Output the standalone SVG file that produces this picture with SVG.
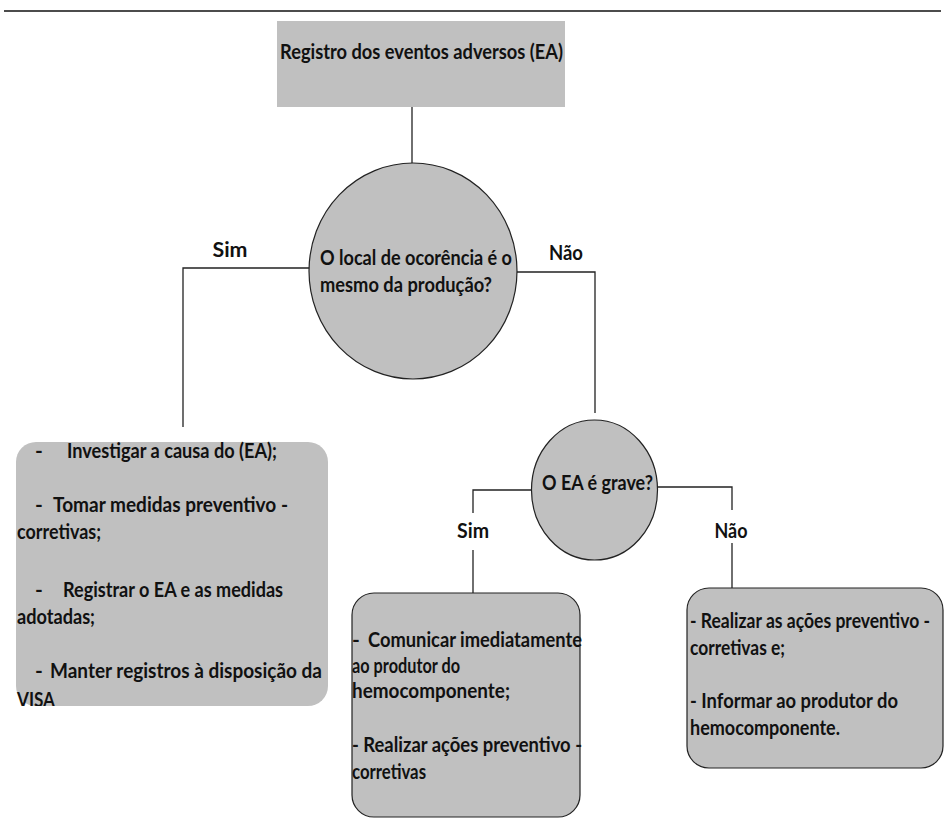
<svg xmlns="http://www.w3.org/2000/svg" width="945" height="819" viewBox="0 0 945 819">
<style>
  .t{font-family:Lato,"Liberation Sans",sans-serif;font-weight:bold;font-size:21px;fill:#111}
  .fill{fill:#c0c0c0}
  .node{fill:#c0c0c0;stroke:#222;stroke-width:1.2}
  .conn{fill:none;stroke:#222;stroke-width:1.3}
</style>
<defs>
  <clipPath id="clipL"><rect x="0" y="430" width="345" height="276"/></clipPath>
</defs>
<rect x="0" y="0" width="945" height="819" fill="#fff"/>
<line x1="4" y1="11" x2="941" y2="11" stroke="#111" stroke-width="1.5"/>

<g id="connectors">
  <line class="conn" x1="412" y1="107" x2="412" y2="163"/>
  <polyline class="conn" points="310,268 183,268 183,427"/>
  <polyline class="conn" points="517,272 595,272 595,413"/>
  <polyline class="conn" points="532,490 473,490 473,513"/>
  <line class="conn" x1="473" y1="550" x2="473" y2="593"/>
  <polyline class="conn" points="657,487 732,487 732,510"/>
  <line class="conn" x1="732" y1="543" x2="732" y2="588"/>
  <text class="t" x="230" y="257" text-anchor="middle" textLength="35" lengthAdjust="spacingAndGlyphs">Sim</text>
  <text class="t" x="566" y="260" text-anchor="middle" textLength="34" lengthAdjust="spacingAndGlyphs">Não</text>
  <text class="t" x="473" y="538" text-anchor="middle" textLength="32" lengthAdjust="spacingAndGlyphs">Sim</text>
  <text class="t" x="731" y="538" text-anchor="middle" textLength="33" lengthAdjust="spacingAndGlyphs">Não</text>
</g>

<g id="n-registro">
  <rect class="fill" x="277" y="21" width="288" height="86"/>
  <text class="t" x="280" y="59" textLength="283" lengthAdjust="spacingAndGlyphs">Registro dos eventos adversos (EA)</text>
</g>

<g id="n-local">
  <ellipse class="node" cx="413" cy="271" rx="104" ry="108"/>
  <text class="t" x="320" y="265" textLength="192" lengthAdjust="spacingAndGlyphs">O local de ocorência é o</text>
  <text class="t" x="320" y="292" textLength="172" lengthAdjust="spacingAndGlyphs">mesmo da produção?</text>
</g>

<g id="n-grave">
  <ellipse class="node" cx="594.5" cy="490" rx="63" ry="70"/>
  <text class="t" x="542" y="490" textLength="111" lengthAdjust="spacingAndGlyphs">O EA é grave?</text>
</g>

<g id="n-mesmo">
  <rect class="fill" x="16" y="442" width="312" height="264" rx="20"/>
  <g clip-path="url(#clipL)">
    <text class="t" x="35" y="458">-</text>
    <text class="t" x="67" y="458" textLength="210" lengthAdjust="spacingAndGlyphs">Investigar a causa do (EA);</text>
    <text class="t" x="35" y="512">-</text>
    <text class="t" x="53" y="512" textLength="235" lengthAdjust="spacingAndGlyphs">Tomar medidas preventivo -</text>
    <text class="t" x="17" y="539" textLength="84" lengthAdjust="spacingAndGlyphs">corretivas;</text>
    <text class="t" x="35" y="597">-</text>
    <text class="t" x="63" y="597" textLength="220" lengthAdjust="spacingAndGlyphs">Registrar o EA e as medidas</text>
    <text class="t" x="17" y="624" textLength="78" lengthAdjust="spacingAndGlyphs">adotadas;</text>
    <text class="t" x="35" y="678">-</text>
    <text class="t" x="50" y="678" textLength="272" lengthAdjust="spacingAndGlyphs">Manter registros à disposição da</text>
    <text class="t" x="17" y="707" textLength="38" lengthAdjust="spacingAndGlyphs">VISA</text>
  </g>
</g>

<g id="n-grave-sim">
  <rect class="node" x="352" y="593" width="228" height="224" rx="22"/>
  <text class="t" x="352" y="647">-</text>
  <text class="t" x="368" y="647" textLength="214" lengthAdjust="spacingAndGlyphs">Comunicar imediatamente</text>
  <text class="t" x="352" y="673" textLength="108" lengthAdjust="spacingAndGlyphs">ao produtor do</text>
  <text class="t" x="352" y="698" textLength="158" lengthAdjust="spacingAndGlyphs">hemocomponente;</text>
  <text class="t" x="352" y="752" textLength="230" lengthAdjust="spacingAndGlyphs">- Realizar ações preventivo -</text>
  <text class="t" x="352" y="779" textLength="74" lengthAdjust="spacingAndGlyphs">corretivas</text>
</g>

<g id="n-grave-nao">
  <rect class="node" x="687" y="588" width="256" height="180" rx="22"/>
  <text class="t" x="690" y="628" textLength="240" lengthAdjust="spacingAndGlyphs">- Realizar as ações preventivo -</text>
  <text class="t" x="690" y="655" textLength="95" lengthAdjust="spacingAndGlyphs">corretivas e;</text>
  <text class="t" x="690" y="708" textLength="208" lengthAdjust="spacingAndGlyphs">- Informar ao produtor do</text>
  <text class="t" x="690" y="735" textLength="150" lengthAdjust="spacingAndGlyphs">hemocomponente.</text>
</g>
</svg>
